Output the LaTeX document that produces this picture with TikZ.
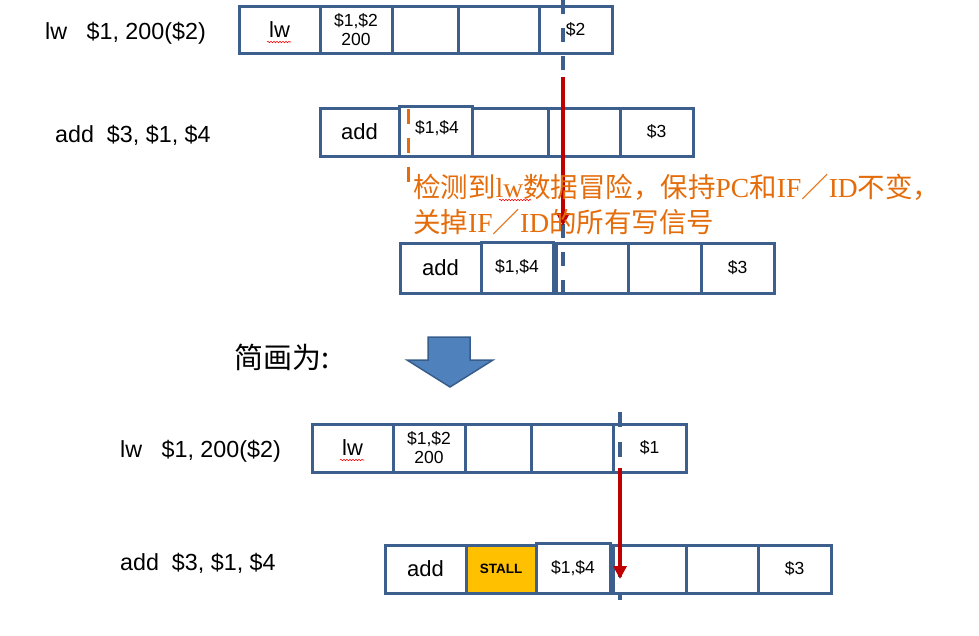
\documentclass[tikz,border=0pt]{standalone}
\usepackage{fontspec}
\setmainfont{Liberation Sans}
\newfontfamily\cjk{Noto Sans CJK SC}
\newfontfamily\serifl{Liberation Serif}
\usetikzlibrary{arrows.meta,decorations.pathmorphing}
\definecolor{cellblue}{HTML}{3C5F8E}
\definecolor{arrowred}{HTML}{C00000}
\definecolor{warnorange}{HTML}{E46C0A}
\definecolor{stallyellow}{HTML}{FFC000}
\definecolor{blockfill}{HTML}{4F81BD}
\definecolor{blockdraw}{HTML}{385D8A}
\tikzset{
  cell/.style={draw=cellblue, line width=3pt, inner sep=0pt, fill=white, align=center},
  bigtxt/.style={font=\fontsize{22}{24}\selectfont},
  smalltxt/.style={font=\fontsize{17.5}{19}\selectfont},
  lbl/.style={anchor=west, inner sep=0pt, font=\fontsize{23.3}{25}\selectfont},
  bluedash/.style={draw=cellblue, line width=3.5pt, dash pattern=on 14pt off 14pt},
  redarrow/.style={draw=arrowred, line width=4pt, -{Triangle[width=13pt,length=13pt]}},
  wavy/.style={draw=red, line width=0.6pt, decorate, decoration={snake, segment length=3pt, amplitude=0.7pt}},
  warn/.style={anchor=west, inner sep=0pt, text=warnorange, font=\fontsize{27.5}{29}\selectfont},
}
\begin{document}
\begin{tikzpicture}[x=1pt,y=-1pt]
\useasboundingbox (0,0) rectangle (979,635);

% dashed blue guide lines
\coordinate (g1t) at (563,0);
\coordinate (g1b) at (563,305);
\coordinate (g2t) at (620,412);
\coordinate (g2b) at (620,600);

% ---------- Row 1 : lw ----------
\node[lbl] (l1) at (45,33) {lw\ \ \ \$1, 200(\$2)};
\node[cell,bigtxt,minimum width=81pt,minimum height=47pt] (c11) at (279.5,29.5) {lw};
\node[cell,smalltxt,minimum width=72pt,minimum height=47pt] (c12) at (356,29.5) {\$1,\$2\\200};
\node[cell,minimum width=66pt,minimum height=47pt] (c13) at (425,29.5) {};
\node[cell,minimum width=81pt,minimum height=47pt] (c14) at (498.5,29.5) {};
\node[cell,smalltxt,minimum width=73pt,minimum height=47pt] (c15) at (575.5,29.5) {\$2};

% ---------- Row 2 : add ----------
\node[lbl] (l2) at (55,135) {add\ \ \$3, \$1, \$4};
\node[cell,bigtxt,minimum width=79pt,minimum height=48pt] (c21) at (359.5,132) {add};
\node[cell,minimum width=76pt,minimum height=48pt] (c23) at (510,132) {};
\node[cell,minimum width=72pt,minimum height=48pt] (c24) at (584,132) {};
\node[cell,smalltxt,minimum width=73pt,minimum height=48pt] (c25) at (656.5,132) {\$3};
\node[cell,minimum width=73pt,minimum height=50pt] (c22) at (435.5,131) {};
\node[smalltxt,inner sep=0pt] (t22) at (437,128) {\$1,\$4};

% ---------- Row 3 : add ----------
\node[cell,bigtxt,minimum width=81pt,minimum height=50pt] (c31) at (440.5,268) {add};
\node[cell,minimum width=72pt,minimum height=50pt] (c33) at (592,268) {};
\node[cell,minimum width=73pt,minimum height=50pt] (c34) at (664.5,268) {};
\node[cell,smalltxt,minimum width=73pt,minimum height=50pt] (c35) at (737.5,268) {\$3};
\node[cell,smalltxt,minimum width=72pt,minimum height=51pt] (c32) at (517,267.5) {\$1,\$4};

% blue dashed line 1 and red arrow 1
\draw[bluedash] (g1t) -- (g1b);
\coordinate (r1s) at (563,77);
\coordinate (r1e) at (563,226);
\draw[redarrow] (r1s) -- (r1e);

% orange dashed marker
\coordinate (o1) at (408,109);
\coordinate (o2) at (408,183);
\draw[draw=warnorange, line width=3pt, dash pattern=on 15pt off 14pt] (o1) -- (o2);

% warning text
\node[warn] (w1) at (413,187)
  {\cjk 检测到{\serifl lw}数据冒险，保持{\serifl PC}和{\serifl IF}／{\serifl ID}不变，};
\node[warn] (w2) at (413,222)
  {\cjk 关掉{\serifl IF}／{\serifl ID}的所有写信号};

% ---------- middle ----------
\node[anchor=west, inner sep=0pt, font=\fontsize{29}{31}\selectfont] (simp) at (234,357) {\cjk 简画为:};
\draw[fill=blockfill, draw=blockdraw, line width=1.5pt]
  (428,337) -- (470,337) -- (470,360) -- (493,360) -- (450,387) -- (407,360) -- (428,360) -- cycle;

% ---------- Row 4 : lw ----------
\node[lbl] (l4) at (120,451) {lw\ \ \ \$1, 200(\$2)};
\node[cell,bigtxt,minimum width=81pt,minimum height=48pt] (c41) at (352.5,448) {lw};
\node[cell,smalltxt,minimum width=72pt,minimum height=48pt] (c42) at (429,448) {\$1,\$2\\200};
\node[cell,minimum width=66pt,minimum height=48pt] (c43) at (498,448) {};
\node[cell,minimum width=82pt,minimum height=48pt] (c44) at (572,448) {};
\node[cell,smalltxt,minimum width=73pt,minimum height=48pt] (c45) at (649.5,448) {\$1};

% ---------- Row 5 : add ----------
\node[lbl] (l5) at (120,563) {add\ \ \$3, \$1, \$4};
\node[cell,bigtxt,minimum width=81pt,minimum height=48pt] (c51) at (425.5,569) {add};
\node[cell,fill=stallyellow,minimum width=70pt,minimum height=48pt,font=\fontsize{13.5}{14}\selectfont\bfseries] (c52) at (501,569) {STALL};
\node[cell,minimum width=73pt,minimum height=48pt] (c54) at (649.5,569) {};
\node[cell,minimum width=72pt,minimum height=48pt] (c55) at (722,569) {};
\node[cell,smalltxt,minimum width=73pt,minimum height=48pt] (c56) at (794.5,569) {\$3};
\node[cell,smalltxt,minimum width=74pt,minimum height=50pt] (c53) at (573,568) {\$1,\$4};

% blue dashed line 2 and red arrow 2
\draw[bluedash, dash pattern=on 15pt off 15pt] (g2t) -- (g2b);
\coordinate (r2s) at (620,468);
\coordinate (r2e) at (620,579);
\draw[redarrow] (r2s) -- (r2e);

% spell-check wavy underlines
\draw[wavy] (267,42) -- (291,42);
\draw[wavy] (340,460) -- (364,460);
\draw[wavy] (499,200) -- (531,200);
\end{tikzpicture}
\end{document}
